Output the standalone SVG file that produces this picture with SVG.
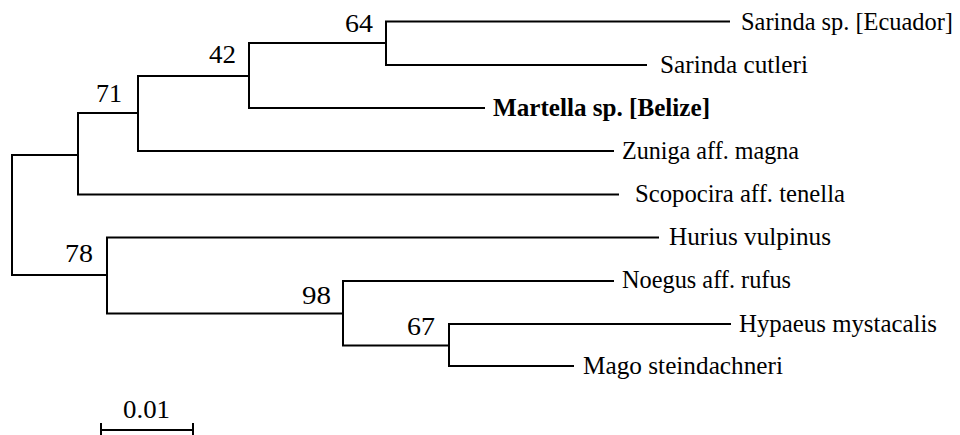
<svg xmlns="http://www.w3.org/2000/svg" width="960" height="435" viewBox="0 0 960 435">
<style>
.br{fill:none;stroke:#000;stroke-width:2;stroke-linecap:square}
.t{font-family:"Liberation Serif","DejaVu Serif",serif;font-size:25px;fill:#000}
.n{font-size:26px}
.b{font-weight:bold}
</style>
<rect width="960" height="435" fill="#fff"/>
<g id="connectors">
<path class="br" d="M12,155 V275 M12,155 H78 M12,275 H107"/>
<path class="br" d="M78,113 V194.5 M78,113 H138 M78,194.5 H618"/>
<path class="br" d="M138,76 V151 M138,76 H249 M138,151 H613"/>
<path class="br" d="M249,43 V108 M249,43 H386 M249,108 H484"/>
<path class="br" d="M386,21.5 V65 M386,21.5 H729 M386,65 H646"/>
<path class="br" d="M107,237.5 V313.5 M107,237.5 H658 M107,313.5 H343"/>
<path class="br" d="M343,281 V345.5 M343,281 H613 M343,345.5 H449"/>
<path class="br" d="M449,324 V366 M449,324 H730 M449,366 H573"/>
</g>
<g id="scale">
<path class="br" d="M101,430 H193 M101,424 V435 M193,424 V435"/>
<text class="t" x="123" y="418" textLength="47" lengthAdjust="spacingAndGlyphs">0.01</text>
</g>
<g id="support">
<text class="t" x="345" y="32" textLength="28" lengthAdjust="spacingAndGlyphs">64</text>
<text class="t" x="209" y="63" textLength="27" lengthAdjust="spacingAndGlyphs">42</text>
<text class="t" x="96" y="102" textLength="26" lengthAdjust="spacingAndGlyphs">71</text>
<text class="t" x="65" y="262" textLength="28" lengthAdjust="spacingAndGlyphs">78</text>
<text class="t" x="302" y="304" textLength="29" lengthAdjust="spacingAndGlyphs">98</text>
<text class="t" x="407" y="335" textLength="28" lengthAdjust="spacingAndGlyphs">67</text>
</g>
<g id="taxon-sarinda-ecuador"><text class="t" x="741" y="30" textLength="212" lengthAdjust="spacingAndGlyphs">Sarinda sp. [Ecuador]</text></g>
<g id="taxon-sarinda-cutleri"><text class="t n" x="660" y="73" textLength="148" lengthAdjust="spacingAndGlyphs">Sarinda cutleri</text></g>
<g id="taxon-martella"><text class="t n b" x="493" y="116" textLength="217" lengthAdjust="spacingAndGlyphs">Martella sp. [Belize]</text></g>
<g id="taxon-zuniga"><text class="t n" x="622" y="159" textLength="177" lengthAdjust="spacingAndGlyphs">Zuniga aff. magna</text></g>
<g id="taxon-scopocira"><text class="t n" x="635" y="202" textLength="210" lengthAdjust="spacingAndGlyphs">Scopocira aff. tenella</text></g>
<g id="taxon-hurius"><text class="t n" x="669" y="245" textLength="162" lengthAdjust="spacingAndGlyphs">Hurius vulpinus</text></g>
<g id="taxon-noegus"><text class="t n" x="622" y="288" textLength="169" lengthAdjust="spacingAndGlyphs">Noegus aff. rufus</text></g>
<g id="taxon-hypaeus"><text class="t n" x="739" y="332" textLength="198" lengthAdjust="spacingAndGlyphs">Hypaeus mystacalis</text></g>
<g id="taxon-mago"><text class="t n" x="583" y="374" textLength="200" lengthAdjust="spacingAndGlyphs">Mago steindachneri</text></g>
</svg>
